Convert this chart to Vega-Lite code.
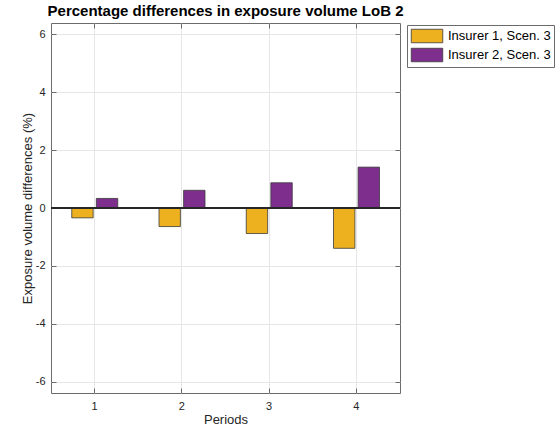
{
  "$schema": "https://vega.github.io/schema/vega-lite/v6.json",
  "width": 349,
  "height": 370,
  "autosize": {"type": "none"},
  "padding": {"left": 51, "top": 23, "right": 160, "bottom": 37},
  "config": {
    "font": "Liberation Sans",
    "view": {"stroke": "#6b6b6b", "strokeWidth": 1},
    "axis": {
      "domain": false,
      "labelColor": "#262626",
      "labelFontSize": 11,
      "titleColor": "#262626",
      "titleFontSize": 13,
      "titleFontWeight": "normal",
      "tickColor": "#6b6b6b",
      "gridColor": "#e6e6e6",
      "gridWidth": 1
    }
  },
  "title": {
    "text": "Percentage differences in exposure volume LoB 2",
    "fontSize": 15,
    "fontWeight": "bold",
    "color": "#000000",
    "anchor": "middle",
    "offset": 4
  },
  "data": {
    "values": [
      {"period": 1, "series": "Insurer 1, Scen. 3", "value": -0.34},
      {"period": 1, "series": "Insurer 2, Scen. 3", "value": 0.33},
      {"period": 2, "series": "Insurer 1, Scen. 3", "value": -0.64},
      {"period": 2, "series": "Insurer 2, Scen. 3", "value": 0.61},
      {"period": 3, "series": "Insurer 1, Scen. 3", "value": -0.88},
      {"period": 3, "series": "Insurer 2, Scen. 3", "value": 0.87},
      {"period": 4, "series": "Insurer 1, Scen. 3", "value": -1.39},
      {"period": 4, "series": "Insurer 2, Scen. 3", "value": 1.41}
    ]
  },
  "layer": [
    {
      "mark": {"type": "bar", "stroke": "#3a3a3a", "strokeWidth": 0.8},
      "encoding": {
        "x": {
          "field": "period",
          "type": "ordinal",
          "scale": {"paddingInner": 0, "paddingOuter": 0},
          "axis": {
            "orient": "bottom",
            "labelAngle": 0,
            "grid": true,
            "bandPosition": 0.5,
            "tickSize": -5,
            "labelPadding": 12,
            "title": "Periods",
            "titlePadding": 2
          }
        },
        "xOffset": {
          "field": "series",
          "type": "nominal",
          "scale": {"range": [20.75, 66.75], "paddingInner": 0.1304, "paddingOuter": 0}
        },
        "y": {
          "field": "value",
          "type": "quantitative",
          "scale": {"domain": [-6.38, 6.38], "nice": false, "zero": false},
          "axis": {
            "orient": "left",
            "values": [-6, -4, -2, 0, 2, 4, 6],
            "labelExpr": "replace(datum.label, '\u2212', '-')",
            "grid": true,
            "tickSize": -5,
            "labelPadding": 11,
            "title": "Exposure volume differences (%)",
            "titlePadding": 1
          }
        },
        "color": {
          "field": "series",
          "type": "nominal",
          "scale": {"range": ["#EDB120", "#7E2F8E"]},
          "legend": {
            "orient": "none",
            "legendX": 356,
            "legendY": 2,
            "title": null,
            "strokeColor": "#6b6b6b",
            "fillColor": "white",
            "padding": 3,
            "labelFontSize": 13,
            "labelColor": "#000000",
            "labelLimit": 200,
            "labelOffset": 13,
            "symbolOffset": 9,
            "rowPadding": 1,
            "symbolType": "M-2.1,-0.9H2.1V0.9H-2.1Z",
            "symbolSize": 225,
            "symbolStrokeColor": "#3a3a3a",
            "symbolStrokeWidth": 0.8,
            "symbolOpacity": 1
          }
        }
      }
    },
    {
      "mark": {"type": "rule", "color": "#262626", "strokeWidth": 1},
      "encoding": {"y": {"datum": 0, "axis": null}}
    },
    {
      "mark": {"type": "point", "opacity": 0},
      "encoding": {
        "x": {
          "field": "period",
          "type": "ordinal",
          "axis": {"orient": "top", "labels": false, "grid": false, "bandPosition": 0.5, "tickSize": -5, "title": null}
        },
        "y": {
          "field": "value",
          "type": "quantitative",
          "axis": {"orient": "right", "labels": false, "grid": false, "values": [-6, -4, -2, 0, 2, 4, 6], "tickSize": -5, "title": null}
        }
      }
    }
  ],
  "resolve": {"axis": {"x": "independent", "y": "independent"}}
}
